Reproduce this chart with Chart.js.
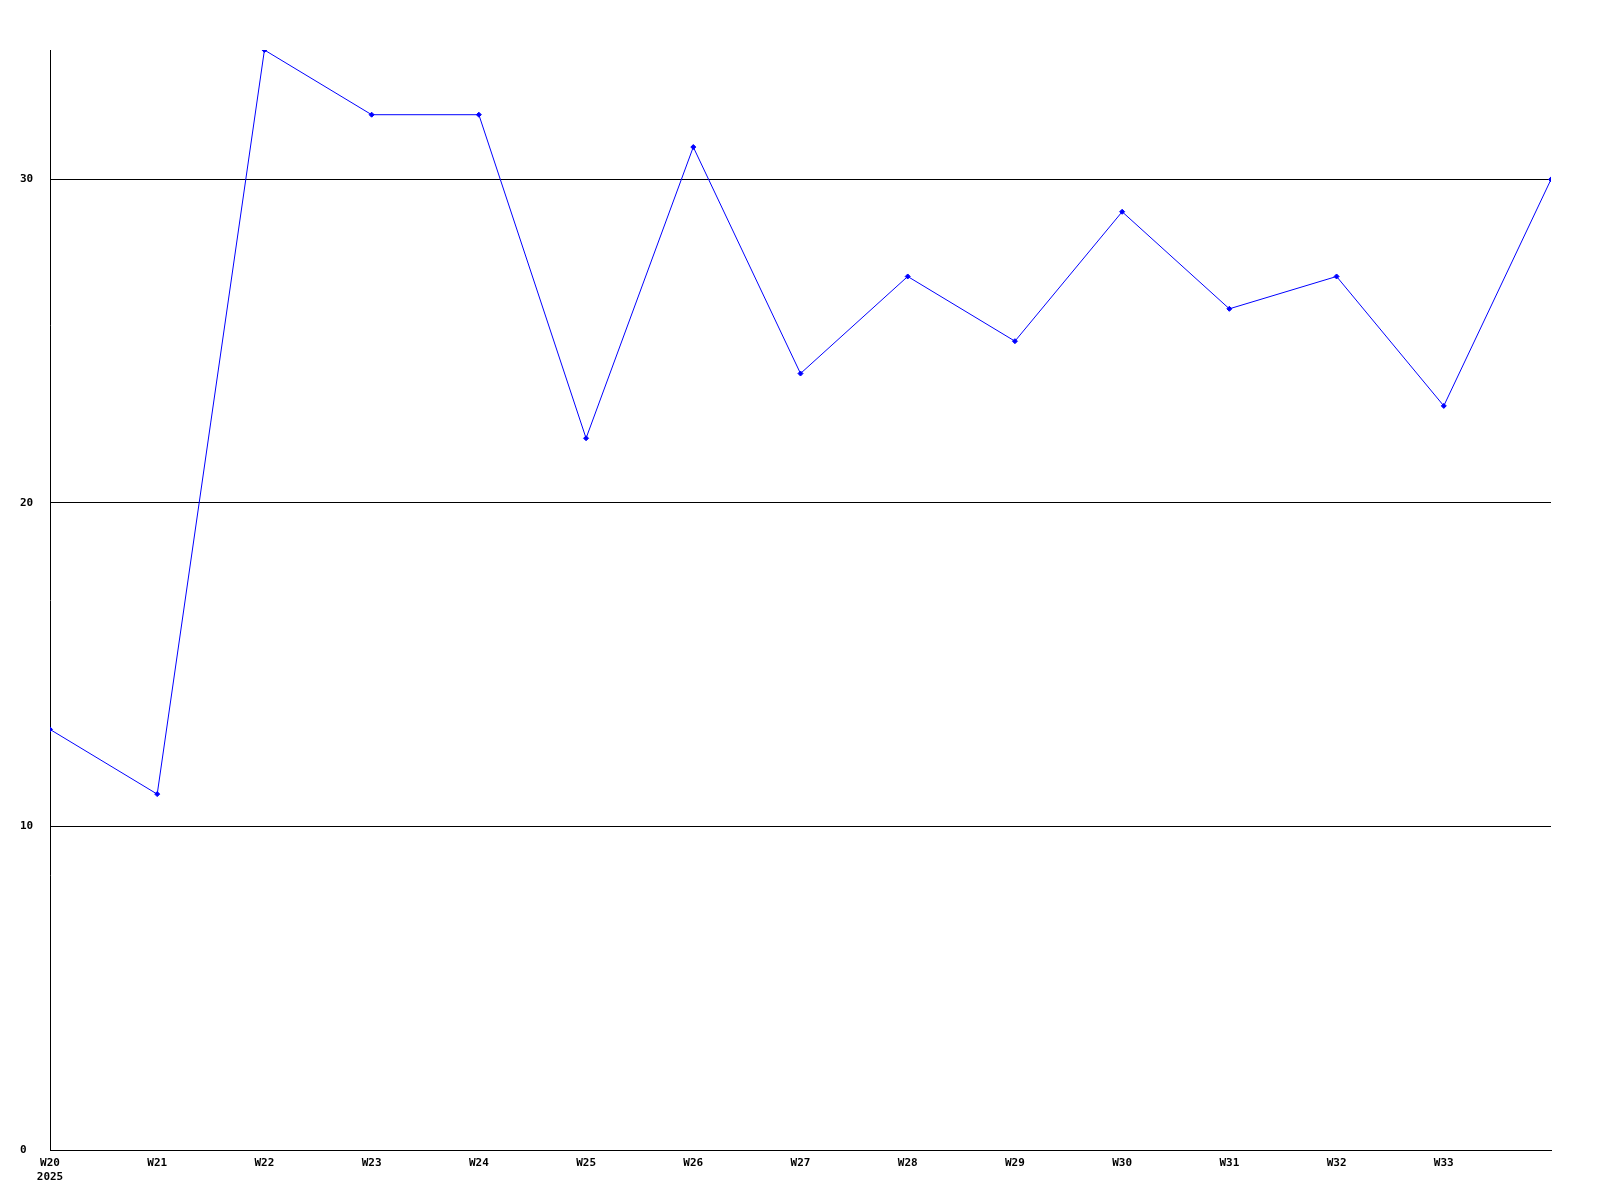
<!DOCTYPE html>
<html lang="en">
<head>
    <meta charset="UTF-8">
    <title>Weekly chart</title>
    <style>
        html, body { margin: 0; padding: 0; background: #fff; }
        #wrap { width: 1600px; height: 1200px; }
    </style>
</head>
<body>
    <div id="wrap"><canvas id="weekChart" width="1600" height="1200"></canvas></div>

    <script src="https://cdn.jsdelivr.net/npm/chart.js"></script>
    <script>
        // week labels along the x axis (the last one is not printed)
        const weeks = ["W20", "W21", "W22", "W23", "W24", "W25", "W26", "W27", "W28", "W29", "W30", "W31", "W32", "W33", "W34"];
        const year = "2025";
        // values
        const values = [13, 11, 34, 32, 32, 22, 31, 24, 27, 25, 29, 26, 27, 23, 30];
        const yTicks = [0, 10, 20, 30];

        const points = values.map((v, i) => ({ x: i, y: v }));
        const font = { family: "'DejaVu Sans Mono', 'Liberation Mono', monospace", size: 11, weight: "bold" };

        new Chart(document.getElementById("weekChart"), {
            type: "line",
            data: {
                datasets: [{
                    data: points,
                    borderColor: "#0000ff",
                    backgroundColor: "#0000ff",
                    borderWidth: 1,
                    pointStyle: "rectRot",
                    pointRadius: 2.5,
                    pointBorderWidth: 1,
                    tension: 0,
                    fill: false
                }]
            },
            options: {
                responsive: false,
                animation: false,
                layout: { padding: { top: 50, right: 49, left: 20, bottom: 0 } },
                plugins: { legend: { display: false }, tooltip: { enabled: false } },
                scales: {
                    x: {
                        type: "linear",
                        min: 0,
                        max: weeks.length - 1,
                        grid: { display: false, drawTicks: false },
                        border: { display: true, color: "#000", width: 1 },
                        afterFit: s => { s.height = 50; },
                        afterBuildTicks: s => { s.ticks = weeks.map((w, i) => ({ value: i })); },
                        ticks: {
                            color: "#000",
                            font: font,
                            padding: 7,
                            maxRotation: 0,
                            autoSkip: false,
                            callback: v => {
                                if (v === weeks.length - 1) return "";
                                return v === 0 ? [weeks[v], year] : weeks[v];
                            }
                        }
                    },
                    y: {
                        min: 0,
                        max: 34,
                        grid: { color: "#000", lineWidth: 1, drawTicks: false },
                        border: { display: true, color: "#000", width: 1 },
                        afterFit: s => { s.width = 30; },
                        afterBuildTicks: s => { s.ticks = yTicks.map(v => ({ value: v })); },
                        ticks: {
                            color: "#000",
                            font: font,
                            padding: 17,
                            crossAlign: "far",
                            includeBounds: false
                        }
                    }
                }
            }
        });
    </script>
</body>
</html>
